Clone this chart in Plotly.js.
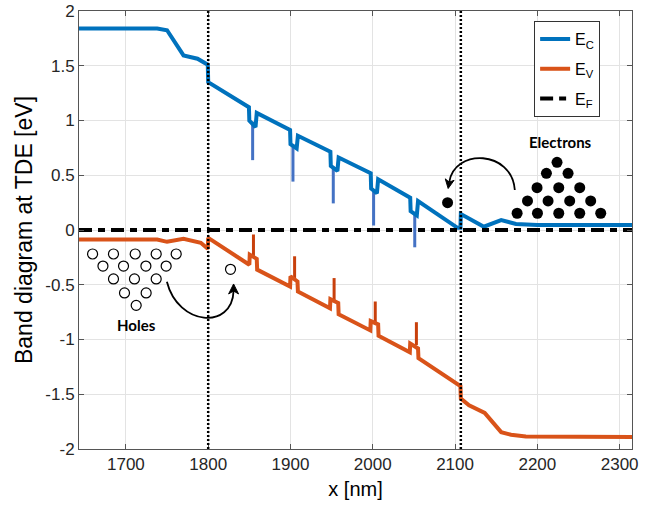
<!DOCTYPE html>
<html>
<head>
<meta charset="utf-8">
<script src="https://cdn.plot.ly/plotly-3.0.1.min.js"></script>
<style>
html, body { margin: 0; padding: 0; background: #ffffff; }
#chart { width: 663px; height: 506px; }
</style>
</head>
<body>
<div id="chart"></div>
<script>
// ---- data ----
const xRange = [1643, 2315];
const xTicks = [1700, 1800, 1900, 2000, 2100, 2200, 2300];
const xTickText = ['1700', '1800', '1900', '2000', '2100', '2200', '2300'];
const yTicks = [-2, -1.5, -1, -0.5, 0, 0.5, 1, 1.5, 2];
const yTickText = ['-2', '-1.5', '-1', '-0.5', '0', '0.5', '1', '1.5', '2'];

// conduction band E_C
const ecX = [1643, 1738, 1750, 1770, 1787, 1799.5, 1800, 1849.5, 1850, 1857.5, 1859,
  1899.5, 1900, 1907.5, 1909, 1948.5, 1949, 1957, 1958.5, 1997.5, 1998, 2005, 2006.5,
  2045.5, 2046, 2053.5, 2055, 2103, 2106.5, 2107, 2135, 2156, 2174, 2200, 2315];
const ecY = [1.84, 1.84, 1.824, 1.594, 1.564, 1.509, 1.35, 1.121, 0.998, 0.94, 1.069,
  0.913, 0.784, 0.745, 0.86, 0.714, 0.585, 0.539, 0.662, 0.518, 0.378, 0.335, 0.463,
  0.295, 0.172, 0.133, 0.264, 0.02, 0.02, 0.145, 0.03, 0.09, 0.055, 0.046, 0.045];

// valence band E_V
const evX = [1643, 1738, 1750, 1770, 1791, 1799.5, 1800, 1850, 1850.5, 1859, 1859.5,
  1899.5, 1900, 1908.5, 1909, 1948, 1948.5, 1958, 1958.5, 1997, 1997.5, 2006.5, 2007,
  2045, 2045.5, 2055, 2055.5, 2104, 2106.5, 2107, 2117, 2136, 2156, 2168, 2186, 2315];
const evY = [-0.087, -0.087, -0.108, -0.081, -0.117, -0.172, -0.072, -0.317, -0.225, -0.264, -0.362,
  -0.516, -0.424, -0.47, -0.561, -0.715, -0.632, -0.667, -0.77, -0.917, -0.832, -0.862, -0.965,
  -1.117, -1.037, -1.082, -1.17, -1.417, -1.425, -1.54, -1.60, -1.67, -1.846, -1.87, -1.885, -1.89];

// Fermi level E_F
const efX = [1643, 2315];
const efY = [0, 0];

// thin spikes at the quantum wells
const ecSpikeX = [1854, 1903, 1952, 2001, 2051];
const ecSpikeTop = [0.99, 0.78, 0.58, 0.37, 0.165];
const ecSpikeBottom = [0.638, 0.442, 0.243, 0.041, -0.158];
const evSpikeX = [1855, 1905, 1953, 2003, 2053];
const evSpikeBottom = [-0.24, -0.44, -0.645, -0.845, -1.05];
const evSpikeTop = [-0.041, -0.24, -0.439, -0.653, -0.842];

// interfaces (dotted vertical lines)
const interfaceX = [1800, 2107];

// electrons (filled) and holes (open) sketch
const electronX = [2223.9, 2211.0, 2237.3, 2199.6, 2226.0, 2251.5, 2188.0, 2213.0, 2239.3, 2264.8,
  2175.4, 2200.1, 2226.0, 2251.5, 2277.0, 2090.9];
const electronY = [0.618, 0.518, 0.518, 0.386, 0.386, 0.386, 0.265, 0.265, 0.265, 0.265,
  0.153, 0.153, 0.153, 0.153, 0.153, 0.249];
const holeX = [1659.5, 1684.9, 1711.3, 1736.8, 1761.1, 1672.1, 1697.1, 1724.3, 1748.9,
  1684.9, 1710.4, 1736.8, 1698.3, 1724.6, 1712.5, 1827.1];
const holeY = [-0.219, -0.219, -0.219, -0.219, -0.219, -0.329, -0.329, -0.329, -0.329,
  -0.447, -0.447, -0.447, -0.575, -0.575, -0.688, -0.359];

// curved arrows (cubic Bezier control points) and arrowheads (tip, left, notch, right)
const holeArrowX = [1749.8, 1763.5, 1829.0, 1830.86];
const holeArrowY = [-0.472, -0.877, -0.913, -0.557];
const holeHeadX = [1830.86, 1824.8, 1830.86, 1836.9];
const holeHeadY = [-0.493, -0.584, -0.557, -0.584];
const electronArrowX = [2172.6, 2168.9, 2099.7, 2092.9];
const electronArrowY = [0.365, 0.731, 0.749, 0.437];
const electronHeadX = [2091.6, 2098.8, 2092.9, 2088.1];
const electronHeadY = [0.379, 0.454, 0.437, 0.467];

const labelText = ['Electrons', 'Holes'];
const labelX = [2228.4, 1712.5];
const labelY = [0.80, -0.868];

// ---- build traces ----
function spikes(xs, a, b) {
  const x = [], y = [];
  for (let i = 0; i < xs.length; i++) { x.push(xs[i], xs[i], null); y.push(a[i], b[i], null); }
  return { x, y };
}
const ecS = spikes(ecSpikeX, ecSpikeTop, ecSpikeBottom);
const evS = spikes(evSpikeX, evSpikeBottom, evSpikeTop);

const FONT = 'Liberation Sans, Arial, Helvetica, sans-serif';

const traces = [
  { x: ecS.x, y: ecS.y, mode: 'lines', line: { color: '#4472C4', width: 3 }, showlegend: false, hoverinfo: 'skip' },
  { x: evS.x, y: evS.y, mode: 'lines', line: { color: '#C8400C', width: 3 }, showlegend: false, hoverinfo: 'skip' },
  { x: ecX, y: ecY, mode: 'lines', name: 'E<sub>C</sub>', legendgroup: 'c', line: { color: '#0072BD', width: 4 } },
  { x: evX, y: evY, mode: 'lines', name: 'E<sub>V</sub>', legendgroup: 'v', line: { color: '#D95319', width: 4 } },
  { x: efX, y: efY, mode: 'lines', name: 'E<sub>F</sub>', legendgroup: 'f', line: { color: '#000000', width: 4, dash: '13px,6px,7px,6px' } },
  { x: electronX, y: electronY, mode: 'markers', showlegend: false, hoverinfo: 'skip',
    marker: { symbol: 'circle', size: 11, color: '#000000', line: { width: 0 } } },
  { x: holeX, y: holeY, mode: 'markers', showlegend: false, hoverinfo: 'skip',
    marker: { symbol: 'circle', size: 10, color: '#ffffff', line: { color: '#000000', width: 1.2 } } }
];

function bez(xs, ys) {
  return 'M ' + xs[0] + ',' + ys[0] + ' C ' + xs[1] + ',' + ys[1] + ' ' + xs[2] + ',' + ys[2] + ' ' + xs[3] + ',' + ys[3];
}
function head(xs, ys) {
  return 'M ' + xs[0] + ',' + ys[0] + ' L ' + xs[1] + ',' + ys[1] + ' L ' + xs[2] + ',' + ys[2] + ' L ' + xs[3] + ',' + ys[3] + ' Z';
}

const shapes = interfaceX.map(v => ({
  type: 'line', xref: 'x', yref: 'paper', x0: v, x1: v, y0: 0, y1: 1,
  line: { color: '#000000', width: 2.5, dash: '2px,2px' }, layer: 'above'
}));
shapes.push({ type: 'path', xref: 'x', yref: 'y', path: bez(holeArrowX, holeArrowY), line: { color: '#000000', width: 1.8 } });
shapes.push({ type: 'path', xref: 'x', yref: 'y', path: bez(electronArrowX, electronArrowY), line: { color: '#000000', width: 1.8 } });
shapes.push({ type: 'path', xref: 'x', yref: 'y', path: head(holeHeadX, holeHeadY), fillcolor: '#000000', line: { color: '#000000', width: 1 } });
shapes.push({ type: 'path', xref: 'x', yref: 'y', path: head(electronHeadX, electronHeadY), fillcolor: '#000000', line: { color: '#000000', width: 1 } });

const annotations = [];
for (let i = 0; i < labelText.length; i++) {
  annotations.push({ x: labelX[i], y: labelY[i], xref: 'x', yref: 'y', text: '<b>' + labelText[i] + '</b>',
    showarrow: false, font: { family: 'Lato, Liberation Sans, sans-serif', size: 15, color: '#000000' } });
}

const axisCommon = {
  showgrid: true, gridcolor: '#e3e3e3', gridwidth: 1,
  showline: true, linecolor: '#555555', linewidth: 1, mirror: 'ticks',
  ticks: 'inside', ticklen: 5, tickcolor: '#555555', tickwidth: 1,
  zeroline: false, tickfont: { family: FONT, size: 17, color: '#262626' }
};

const layout = {
  width: 663, height: 506,
  margin: { l: 79, r: 31, t: 11, b: 57 },
  paper_bgcolor: '#ffffff', plot_bgcolor: '#ffffff',
  showlegend: true,
  legend: {
    x: 0.823, y: 0.977, xanchor: 'left', yanchor: 'top',
    bgcolor: '#ffffff', bordercolor: '#333333', borderwidth: 1,
    font: { family: FONT, size: 16, color: '#000000' },
    tracegroupgap: 6, itemwidth: 30
  },
  xaxis: Object.assign({}, axisCommon, {
    range: xRange, tickmode: 'array', tickvals: xTicks, ticktext: xTickText,
    title: { text: 'x [nm]', font: { family: FONT, size: 20, color: '#000000' }, standoff: 8 }
  }),
  yaxis: Object.assign({}, axisCommon, {
    range: [-2, 2], tickmode: 'array', tickvals: yTicks, ticktext: yTickText,
    title: { text: 'Band diagram at TDE [eV]', font: { family: FONT, size: 23, color: '#000000' }, standoff: 6 }
  }),
  shapes: shapes,
  annotations: annotations
};

Plotly.newPlot('chart', traces, layout, { staticPlot: true, displayModeBar: false });
</script>
</body>
</html>
